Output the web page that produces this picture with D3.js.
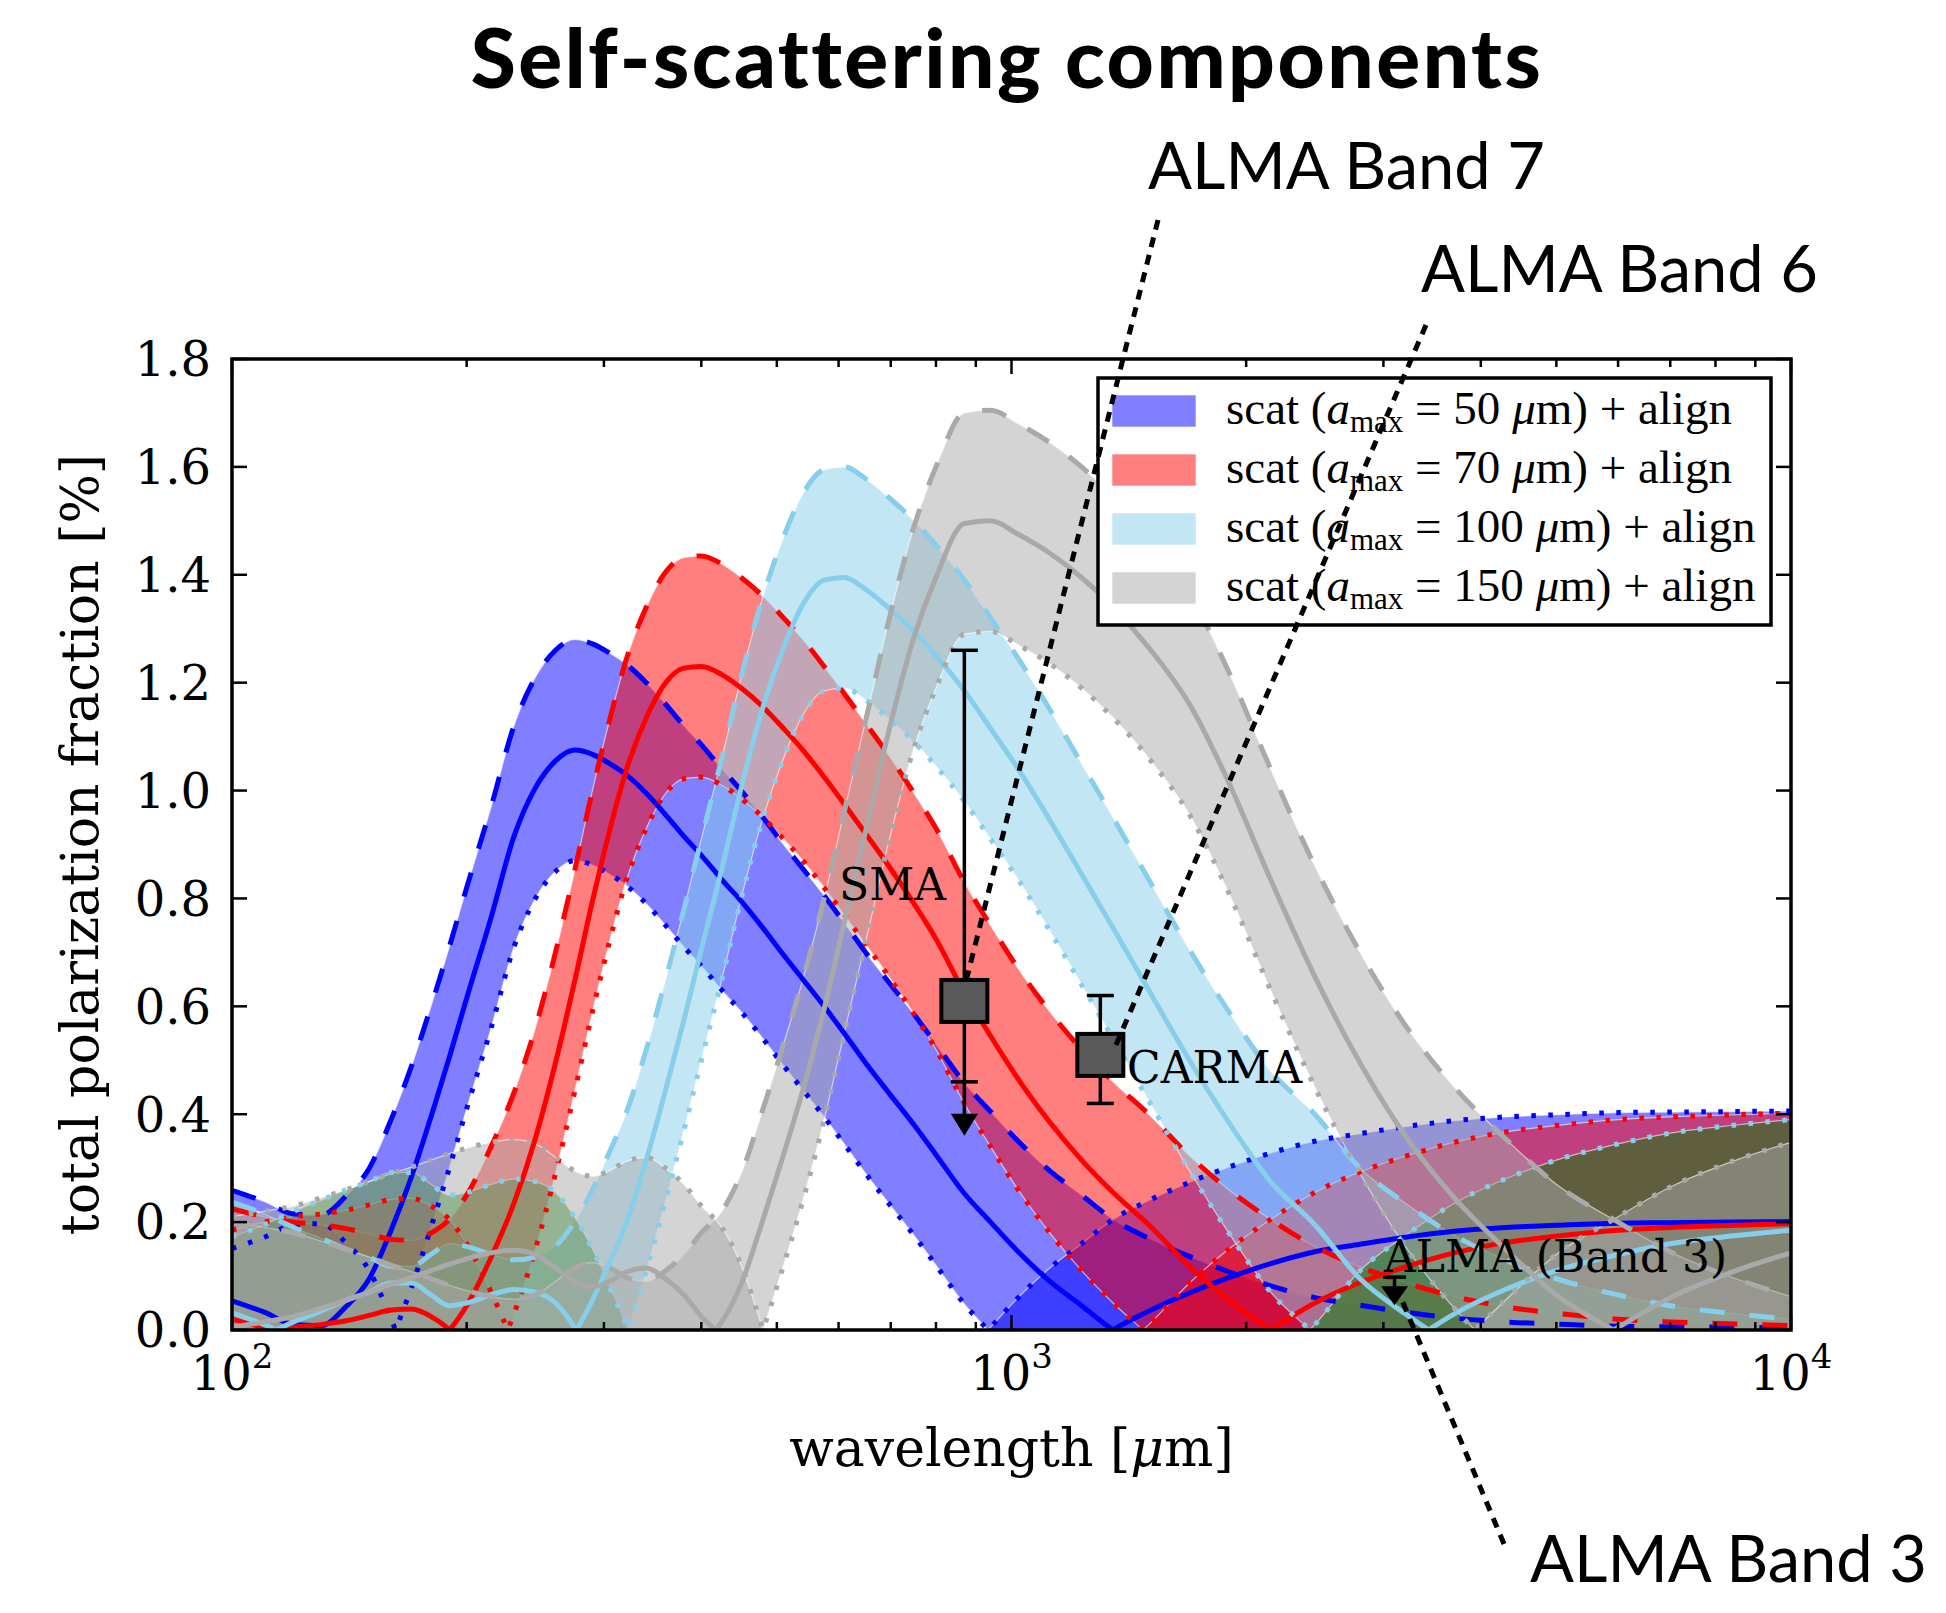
<!DOCTYPE html>
<html>
<head>
<meta charset="utf-8">
<script src="https://cdn.jsdelivr.net/npm/d3@7"></script>
<style>
  html, body { margin: 0; padding: 0; background: #fff; }
  svg { display: block; }
</style>
</head>
<body>
<svg id="chart" width="1946" height="1613"></svg>
<script>
// ---- data -------------------------------------------------------------
// wavelength sample points [micron]
const wavelengths = [100,110,120,130,140,150,160,170,180,190,
  200,215,230,245,260,275,290,305,320,340,
  360,380,400,425,450,480,510,540,575,610,
  650,700,750,800,870,940,1020,1120,1230,1350,
  1500,1700,1900,2150,2450,2800,3200,3700,4300,5000,
  6000,7000,8500,10000];

// self-scattering polarization fraction [%] for each maximum grain size
const scat50 = [0.259,0.238,0.215,0.213,0.248,0.30,0.39,0.49,0.60,0.71,
  0.82,0.97,1.12,1.21,1.26,1.28,1.272,1.255,1.235,1.20,
  1.16,1.12,1.085,1.04,1.0,0.95,0.90,0.855,0.805,0.755,
  0.70,0.64,0.585,0.53,0.458,0.405,0.35,0.295,0.25,0.205,
  0.17,0.135,0.108,0.082,0.06,0.046,0.033,0.022,0.015,0.011,
  0.007,0.006,0.005,0.004];
const scat70 = [0.225,0.21,0.20,0.195,0.188,0.178,0.168,0.166,0.18,0.205,
  0.25,0.34,0.44,0.56,0.70,0.85,1.0,1.13,1.24,1.34,
  1.405,1.432,1.435,1.42,1.395,1.36,1.32,1.28,1.23,1.18,
  1.125,1.06,0.995,0.93,0.83,0.75,0.67,0.59,0.52,0.46,
  0.40,0.32,0.26,0.205,0.155,0.117,0.088,0.062,0.043,0.031,
  0.02,0.015,0.011,0.008];
const scat100 = [0.237,0.215,0.19,0.17,0.15,0.135,0.118,0.118,0.14,0.16,
  0.155,0.14,0.13,0.135,0.155,0.20,0.26,0.33,0.40,0.52,
  0.65,0.78,0.91,1.06,1.21,1.36,1.47,1.55,1.595,1.60,
  1.578,1.54,1.50,1.455,1.39,1.32,1.245,1.15,1.05,0.95,
  0.835,0.70,0.59,0.48,0.40,0.30,0.235,0.175,0.13,0.095,
  0.065,0.045,0.03,0.02];
const scat150 = [0.20,0.19,0.18,0.165,0.15,0.135,0.12,0.108,0.095,0.083,
  0.073,0.062,0.057,0.065,0.09,0.115,0.125,0.115,0.098,0.09,
  0.11,0.14,0.18,0.22,0.29,0.41,0.53,0.65,0.80,0.96,
  1.13,1.33,1.49,1.60,1.70,1.705,1.68,1.645,1.60,1.545,
  1.47,1.36,1.22,1.04,0.86,0.70,0.565,0.45,0.355,0.27,
  0.20,0.145,0.095,0.062];

// grain-alignment polarization levels subtracted for the solid and dotted variants [%]
const alignLevels = [0.205, 0.41];

const grainSizes = [50, 70, 100, 150];
const bandColors = ["blue", "red", "skyblue", "darkgray"];
const alignFillColors = ["blue", "red", "green", "darkgray"];

const yTicks = [0.0,0.2,0.4,0.6,0.8,1.0,1.2,1.4,1.6,1.8];
const xMajorTicks = [100, 1000, 10000];
const xTickExponents = ["2", "3", "4"];

// observations: polarization fraction and error ranges [%]
const obsNames = ["SMA", "CARMA", "ALMA (Band 3)"];
const obsWavelength = [870, 1300, 3100];
const obsValue = [0.61, 0.51, 0.098];
const obsLow = [0.46, 0.42, null];
const obsHigh = [1.26, 0.62, null];
const obsLimitTip = [0.36, null, 0.046];

const bandNames = ["ALMA Band 7", "ALMA Band 6", "ALMA Band 3"];

// ---- layout -----------------------------------------------------------
const W = 1946, H = 1613;
const P = { left: 232, right: 1791, top: 359, bottom: 1330 };

const x = d3.scaleLog().domain([100, 10000]).range([P.left, P.right]);
const y = d3.scaleLinear().domain([0, 1.8]).range([P.bottom, P.top]);

const svg = d3.select("#chart");
svg.append("rect").attr("width", W).attr("height", H).attr("fill", "#fff");

svg.append("defs").append("clipPath").attr("id", "plotClip")
  .append("rect")
  .attr("x", P.left).attr("y", P.top)
  .attr("width", P.right - P.left).attr("height", P.bottom - P.top);

const serif = "'DejaVu Serif', serif";
const legendSerif = "'Liberation Serif', 'Times New Roman', serif";

// ---- model bands --------------------------------------------------------
const curve = d3.curveMonotoneX;
const plotG = svg.append("g").attr("clip-path", "url(#plotClip)");
const fillLayer = plotG.append("g");
const lineLayer = plotG.append("g");
const [aMid, aHigh] = alignLevels;
const allSeries = [scat50, scat70, scat100, scat150];
const lineW = 5;

allSeries.forEach((vals, i) => {
  const pts = wavelengths.map((w, k) => ({ w, s: vals[k] }));

  // scattering band: between pure scattering and scattering minus strong alignment
  const scatArea = d3.area().curve(curve)
    .x(d => x(d.w)).y0(d => y(d.s - aHigh)).y1(d => y(d.s));
  // alignment-dominated part: where alignment exceeds scattering
  const alignArea = d3.area().curve(curve)
    .x(d => x(d.w)).y0(y(0)).y1(d => y(aHigh - d.s));

  fillLayer.append("path").attr("d", scatArea(pts))
    .attr("fill", bandColors[i]).attr("fill-opacity", 0.5)
    .attr("stroke", "#fff").attr("stroke-opacity", 0.6).attr("stroke-width", 1.2);
  fillLayer.append("path").attr("d", alignArea(pts))
    .attr("fill", alignFillColors[i]).attr("fill-opacity", 0.5)
    .attr("stroke", "#fff").attr("stroke-opacity", 0.6).attr("stroke-width", 1.2);

  const shifted = off => d3.line().curve(curve).x(d => x(d.w)).y(d => y(d.s - off));
  const mirrored = off => d3.line().curve(curve).x(d => x(d.w)).y(d => y(off - d.s));

  const styles = [
    { gen: [shifted(0)], dash: "25,25" },
    { gen: [shifted(aMid), mirrored(aMid)], dash: null },
    { gen: [shifted(aHigh), mirrored(aHigh)], dash: "4.5,12.5" }
  ];
  styles.forEach(st => {
    st.gen.forEach(gen => {
      const p = lineLayer.append("path").attr("d", gen(pts))
        .attr("fill", "none").attr("stroke", bandColors[i])
        .attr("stroke-width", lineW);
      if (st.dash) p.attr("stroke-dasharray", st.dash);
    });
  });
});

// ---- axes frame and ticks ----------------------------------------------
const axG = svg.append("g");
const tickW = 2.5, majorLen = 15, minorLen = 8;
const minorTicks = [];
[100, 1000].forEach(dec => { for (let m = 2; m <= 9; m++) minorTicks.push(dec * m); });

xMajorTicks.forEach(v => {
  axG.append("line").attr("x1", x(v)).attr("x2", x(v)).attr("y1", P.bottom).attr("y2", P.bottom - majorLen)
    .attr("stroke", "#000").attr("stroke-width", tickW);
  axG.append("line").attr("x1", x(v)).attr("x2", x(v)).attr("y1", P.top).attr("y2", P.top + majorLen)
    .attr("stroke", "#000").attr("stroke-width", tickW);
});
minorTicks.forEach(v => {
  axG.append("line").attr("x1", x(v)).attr("x2", x(v)).attr("y1", P.bottom).attr("y2", P.bottom - minorLen)
    .attr("stroke", "#000").attr("stroke-width", tickW);
  axG.append("line").attr("x1", x(v)).attr("x2", x(v)).attr("y1", P.top).attr("y2", P.top + minorLen)
    .attr("stroke", "#000").attr("stroke-width", tickW);
});
yTicks.forEach(v => {
  axG.append("line").attr("x1", P.left).attr("x2", P.left + majorLen).attr("y1", y(v)).attr("y2", y(v))
    .attr("stroke", "#000").attr("stroke-width", tickW);
  axG.append("line").attr("x1", P.right).attr("x2", P.right - majorLen).attr("y1", y(v)).attr("y2", y(v))
    .attr("stroke", "#000").attr("stroke-width", tickW);
  axG.append("text").attr("x", 211).attr("y", y(v)).attr("dy", "0.36em")
    .attr("text-anchor", "end").attr("font-family", serif).attr("font-size", 48)
    .text(v.toFixed(1));
});
xMajorTicks.forEach((v, k) => {
  const t = axG.append("text").attr("x", x(v)).attr("y", 1390)
    .attr("text-anchor", "middle").attr("font-family", serif).attr("font-size", 48);
  t.append("tspan").text("10");
  t.append("tspan").attr("font-size", 34).attr("dy", -22).text(xTickExponents[k]);
});
axG.append("rect").attr("x", P.left).attr("y", P.top)
  .attr("width", P.right - P.left).attr("height", P.bottom - P.top)
  .attr("fill", "none").attr("stroke", "#000").attr("stroke-width", 3.5);

// axis labels
const xl = axG.append("text").attr("x", (P.left + P.right) / 2).attr("y", 1466)
  .attr("text-anchor", "middle").attr("font-family", serif).attr("font-size", 52);
xl.append("tspan").text("wavelength [");
xl.append("tspan").attr("font-style", "italic").text("μ");
xl.append("tspan").text("m]");

axG.append("text")
  .attr("transform", `translate(98,${(P.top + P.bottom) / 2}) rotate(-90)`)
  .attr("text-anchor", "middle").attr("font-family", serif).attr("font-size", 52)
  .text("total polarization fraction [%]");

// ---- observations --------------------------------------------------------
const obsG = svg.append("g");
const capHalf = 13.5, stemW = 3.5;
obsWavelength.forEach((w, k) => {
  const cx = x(w);
  if (obsLow[k] !== null) {
    obsG.append("line").attr("x1", cx).attr("x2", cx)
      .attr("y1", y(obsHigh[k])).attr("y2", y(obsLow[k]))
      .attr("stroke", "#000").attr("stroke-width", stemW);
    [obsHigh[k], obsLow[k]].forEach(v => {
      obsG.append("line").attr("x1", cx - capHalf).attr("x2", cx + capHalf)
        .attr("y1", y(v)).attr("y2", y(v)).attr("stroke", "#000").attr("stroke-width", stemW);
    });
  }
  if (obsLimitTip[k] !== null) {
    const from = obsLow[k] !== null ? obsLow[k] : obsValue[k];
    if (obsLow[k] === null) {
      obsG.append("line").attr("x1", cx - capHalf + 2).attr("x2", cx + capHalf - 2)
        .attr("y1", y(from)).attr("y2", y(from)).attr("stroke", "#000").attr("stroke-width", stemW);
    }
    const tipY = y(obsLimitTip[k]);
    const headH = obsLow[k] !== null ? 22 : 19;
    obsG.append("line").attr("x1", cx).attr("x2", cx)
      .attr("y1", y(from)).attr("y2", tipY - headH + 2)
      .attr("stroke", "#000").attr("stroke-width", stemW);
    obsG.append("path")
      .attr("d", `M${cx - 13.5},${tipY - headH} L${cx + 13.5},${tipY - headH} L${cx},${tipY} Z`)
      .attr("fill", "#000");
  }
  if (obsLow[k] !== null) {
    obsG.append("rect").attr("x", cx - 23).attr("y", y(obsValue[k]) - 21)
      .attr("width", 46).attr("height", 42)
      .attr("fill", "#595959").attr("stroke", "#000").attr("stroke-width", 4);
  }
});
const obsLabelPos = [[839, 900], [1127, 1083], [1384, 1272]];
obsNames.forEach((n, k) => {
  obsG.append("text").attr("x", obsLabelPos[k][0]).attr("y", obsLabelPos[k][1])
    .attr("font-family", serif).attr("font-size", 44).text(n);
});

// ---- legend ---------------------------------------------------------------
const lg = svg.append("g");
lg.append("rect").attr("x", 1098).attr("y", 378).attr("width", 673).attr("height", 247)
  .attr("fill", "#fff").attr("stroke", "#000").attr("stroke-width", 3.5);
const rowY = [411, 470, 529, 588];
grainSizes.forEach((a, k) => {
  lg.append("rect").attr("x", 1112).attr("y", rowY[k] - 16).attr("width", 84).attr("height", 32)
    .attr("fill", bandColors[k]).attr("fill-opacity", 0.5)
    .attr("stroke", "#fff").attr("stroke-opacity", 0.6).attr("stroke-width", 1);
  const t = lg.append("text").attr("x", 1226).attr("y", rowY[k] + 13)
    .attr("font-family", legendSerif).attr("font-size", 47);
  t.append("tspan").text("scat (");
  t.append("tspan").attr("font-style", "italic").text("a");
  t.append("tspan").attr("font-size", 31).attr("dy", 8).text("max");
  t.append("tspan").attr("dy", -8).text(" = " + a + " ");
  t.append("tspan").attr("font-style", "italic").text("μ");
  t.append("tspan").text("m) + align");
});

// ---- band annotations and title ----------------------------------------
const annG = svg.append("g");
const bandLines = [
  [[1158, 220], [x(obsWavelength[0]) + 2, y(obsValue[0]) - 21]],
  [[1426, 325], [x(obsWavelength[1]) + 14, y(obsValue[1]) - 6]],
  [[1504, 1544], [x(obsWavelength[2]) + 2, y(obsValue[2]) + 10]]
];
bandLines.forEach(([a, b]) => {
  annG.append("line").attr("x1", a[0]).attr("y1", a[1]).attr("x2", b[0]).attr("y2", b[1])
    .attr("stroke", "#000").attr("stroke-width", 5).attr("stroke-dasharray", "10,8");
});
const bandLabelPos = [[1148, 189], [1421, 292], [1530, 1582]];
bandNames.forEach((n, k) => {
  annG.append("text").attr("x", bandLabelPos[k][0]).attr("y", bandLabelPos[k][1])
    .attr("font-family", "Lato, sans-serif").attr("font-size", 65).text(n);
});

svg.append("text").attr("x", 1007).attr("y", 88).attr("text-anchor", "middle")
  .attr("font-family", "Lato, sans-serif").attr("font-weight", 900).attr("font-size", 82)
  .attr("letter-spacing", 2.5)
  .text("Self-scattering components");
</script>
</body>
</html>
